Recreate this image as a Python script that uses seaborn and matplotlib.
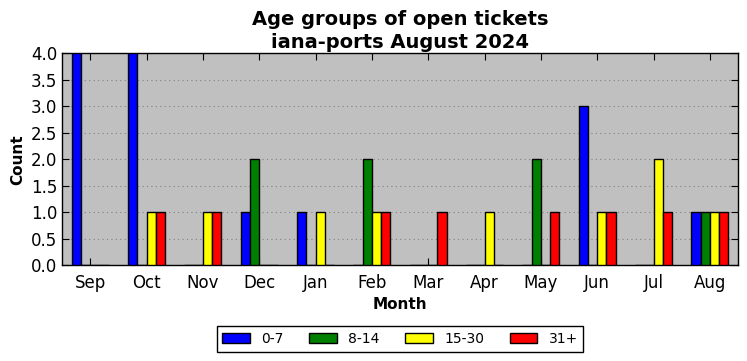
import pandas as pd
import matplotlib
matplotlib.use('Agg')
import matplotlib.pyplot as plt
import seaborn as sns

# --- Dados ---
months = ['Sep', 'Oct', 'Nov', 'Dec', 'Jan', 'Feb', 'Mar', 'Apr', 'May', 'Jun', 'Jul', 'Aug']
age_groups = ['0-7', '8-14', '15-30', '31+']
counts_0_7 = [4, 4, 0, 1, 1, 0, 0, 0, 0, 3, 0, 1]
counts_8_14 = [0, 0, 0, 2, 0, 2, 0, 0, 2, 0, 0, 1]
counts_15_30 = [0, 1, 1, 0, 1, 1, 0, 1, 0, 1, 2, 1]
counts_31 = [0, 1, 1, 0, 0, 1, 1, 0, 1, 1, 1, 1]
colors = ['#0000ff', '#008000', '#ffff00', '#ff0000']

rows = []
for grp, vals in zip(age_groups, [counts_0_7, counts_8_14, counts_15_30, counts_31]):
    for m, v in zip(months, vals):
        rows.append({'Month': m, 'Group': grp, 'Count': v})
df = pd.DataFrame(rows)

# --- Estilo ---
sns.set_theme(style='white')
plt.rcParams['font.family'] = ['DejaVu Sans']
plt.rcParams['axes.facecolor'] = '#c0c0c0'
for k in ['text.color', 'axes.labelcolor', 'xtick.color', 'ytick.color']:
    plt.rcParams[k] = 'black'

fig, ax = plt.subplots(figsize=(7.47, 3.61), dpi=100)

sns.barplot(data=df, x='Month', y='Count', hue='Group', order=months,
            hue_order=age_groups, palette=colors, width=0.66,
            edgecolor='black', linewidth=1.0, saturation=1, ax=ax,
            errorbar=None, zorder=3)

ax.set_xlim(-0.5, 11.5)
ax.set_ylim(0, 4.0)
ax.set_yticks([i * 0.5 for i in range(9)])
ax.set_yticklabels([f'{i * 0.5:.1f}' for i in range(9)])
ax.grid(axis='y', color='#808080', linestyle=(0, (1, 3)), linewidth=0.8, zorder=0)
ax.set_axisbelow(True)

ax.tick_params(axis='both', direction='in', length=5, width=0.8,
               top=True, right=True, bottom=True, left=True, labelsize=12)
ax.tick_params(axis='x', pad=6)
for s in ax.spines.values():
    s.set_color('black')
    s.set_linewidth(1.0)

ax.set_title('Age groups of open tickets\niana-ports August 2024',
             fontsize=14, fontweight='bold', linespacing=1.25, pad=4)
ax.set_xlabel('Month', fontsize=11, fontweight='bold')
ax.set_ylabel('Count', fontsize=11, fontweight='bold')

leg = ax.legend(loc='upper center', bbox_to_anchor=(0.5, -0.255), ncol=4,
                fontsize=10, frameon=True, fancybox=False, edgecolor='black',
                facecolor='white', framealpha=1,
                handlelength=2.0, handleheight=0.7, columnspacing=1.85,
                borderpad=0.4)
leg.get_frame().set_linewidth(1.0)

plt.subplots_adjust(left=0.083, right=0.988, top=0.853, bottom=0.265)
plt.savefig('out.png', dpi=100)
